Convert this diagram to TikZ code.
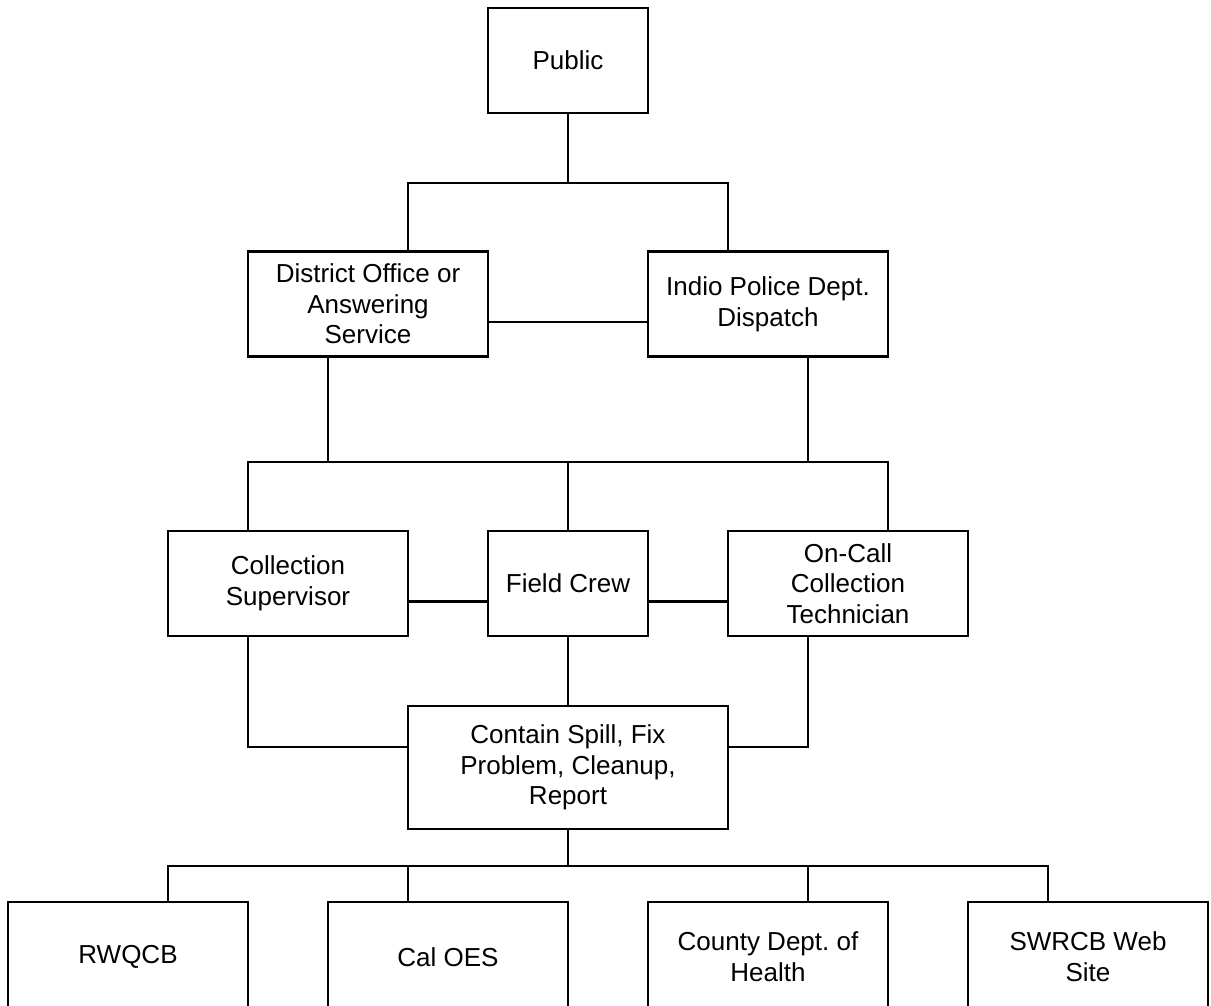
\documentclass[tikz,border=0pt]{standalone}
\usepackage{fontspec}
\setmainfont{Liberation Sans}
\frenchspacing
\tikzset{
  unitbox/.style={draw,line width=2.2pt,align=center,inner sep=2pt,minimum width=180pt,minimum height=78.75pt,font=\fontsize{19.5}{23}\selectfont},
  narrowbox/.style={unitbox,minimum width=120pt},
  taskbox/.style={unitbox,minimum width=240pt,minimum height=92.25pt},
  agency/.style={unitbox,minimum height=82.5pt},
  link/.style={draw,line width=1.8pt}
}

\begin{document}
\begin{tikzpicture}[x=0.75pt,y=0.75pt]
  \useasboundingbox (0,0) rectangle (1211,-1006);
  \clip (0,0) rectangle (1211,-1006);

  % who takes the call
  \node[narrowbox] (public) at (568,-60.5) {Public};
  \node[unitbox] (district) at (368,-304) {District Office or\\Answering\\Service};
  \node[unitbox] (indio) at (768,-304) {Indio Police Dept.\\Dispatch};

  % who responds
  \node[unitbox] (colsup) at (288,-583.5) {Collection\\Supervisor};
  \node[narrowbox] (crew) at (568,-583.5) {Field Crew};
  \node[unitbox] (oncall) at (848,-583.5) {On-Call\\Collection\\Technician};
  \node[taskbox] (contain) at (568,-767.5) {Contain Spill, Fix\\Problem, Cleanup,\\Report};

  % who gets notified
  \node[agency] (rwqcb) at (128,-957) {RWQCB};
  \node[agency] (caloes) at (448,-957) {Cal OES};
  \node[agency] (county) at (768,-957) {County Dept. of\\Health};
  \node[agency] (swrcb) at (1088,-957) {SWRCB Web\\Site};

  \coordinate (bar1) at (568,-183);
  \coordinate (bar2) at (568,-462);
  \coordinate (bar3) at (568,-866);

  \draw[link] (public.south) -- (bar1);
  \draw[link] ([xshift=30pt]district.north) |- (bar1) -| ([xshift=-30pt]indio.north);
  \draw[link] ([yshift=-13.5pt]district.east) -- ([yshift=-13.5pt]indio.west);

  \draw[link] ([xshift=-30pt]colsup.north) |- (bar2) -| ([xshift=30pt]oncall.north);
  \draw[link] ([xshift=-30pt]district.south) -- ([xshift=-30pt]district.south |- bar2);
  \draw[link] ([xshift=30pt]indio.south) -- ([xshift=30pt]indio.south |- bar2);
  \draw[link] (crew.north) -- (crew.north |- bar2);
  \draw[link] ([yshift=-13.5pt]colsup.east) -- ([yshift=-13.5pt]crew.west);
  \draw[link] ([yshift=-13.5pt]crew.east) -- ([yshift=-13.5pt]oncall.west);

  \draw[link] (crew.south) -- (contain.north);
  \draw[link] ([xshift=-30pt]colsup.south) |- ([yshift=15.4pt]contain.west);
  \draw[link] ([xshift=-30pt]oncall.south) |- ([yshift=15.4pt]contain.east);

  \draw[link] (contain.south) -- (bar3);
  \draw[link] ([xshift=30pt]rwqcb.north) |- (bar3) -| ([xshift=-30pt]swrcb.north);
  \draw[link] ([xshift=-30pt]caloes.north) -- ([xshift=-30pt]caloes.north |- bar3);
  \draw[link] ([xshift=30pt]county.north) -- ([xshift=30pt]county.north |- bar3);
\end{tikzpicture}
\end{document}
